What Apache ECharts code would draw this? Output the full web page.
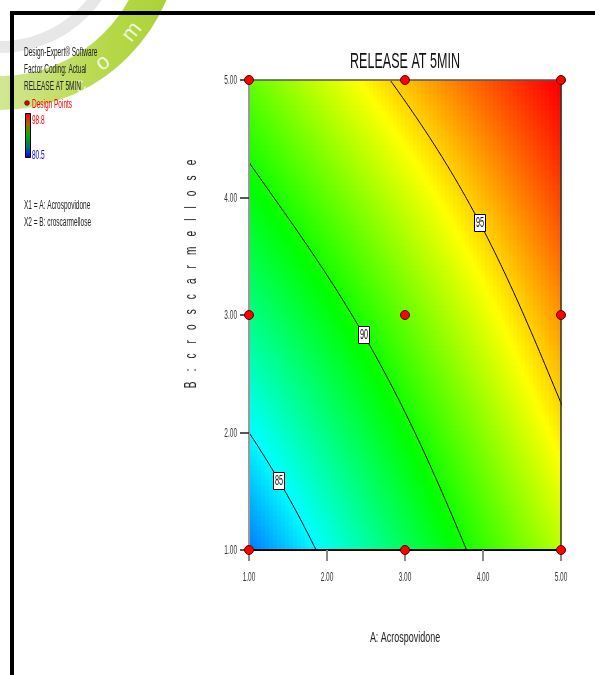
<!DOCTYPE html>
<html>
<head>
<meta charset="utf-8">
<script src="https://cdn.jsdelivr.net/npm/echarts@6/dist/echarts.min.js"></script>
<style>
  html, body { margin: 0; padding: 0; background: #fff; }
  #chart { width: 595px; height: 675px; }
</style>
</head>
<body>
<div id="chart"></div>
<script>
const SANS = '"Liberation Sans",Arial,sans-serif';

// Factor ranges (actual units) and axis ticks
const factorA = [1, 5];
const factorB = [1, 5];
const axisTicks = [1, 2, 3, 4, 5];

// 3x3 factorial design points
const designA = [1, 1, 1, 3, 3, 3, 5, 5, 5];
const designB = [1, 3, 5, 1, 3, 5, 1, 3, 5];

// Observed response range used for the colour scale
const responseRange = [80.5, 98.8];

// Fitted model in coded factors: [intercept, A, B, AB, A^2, B^2, A^2B^2]
const modelCoef = [91.49, 4.454, 3.683, -0.695, 0.204, 0.189, -0.39];

// Contour levels and the B position at which each level is labelled
const contourLevels = [85, 90, 95];
const contourLabelB = [1.59, 2.83, 3.78];

// Surface resolution
const cellsA = 78;
const cellsB = 94;

const toCodedA = A => (A - (factorA[0] + factorA[1]) / 2) / ((factorA[1] - factorA[0]) / 2);
const toCodedB = B => (B - (factorB[0] + factorB[1]) / 2) / ((factorB[1] - factorB[0]) / 2);
const toActualA = a => a * (factorA[1] - factorA[0]) / 2 + (factorA[0] + factorA[1]) / 2;

function predict(A, B) {
  const a = toCodedA(A), b = toCodedB(B);
  const c = modelCoef;
  return c[0] + c[1] * a + c[2] * b + c[3] * a * b + c[4] * a * a + c[5] * b * b + c[6] * a * a * b * b;
}

// A value where the model equals `level` for a given B (root nearest the centre)
function solveA(level, B) {
  const b = toCodedB(B);
  const c = modelCoef;
  const qa = c[4] + c[6] * b * b;
  const qb = c[1] + c[3] * b;
  const qc = c[0] + c[2] * b + c[5] * b * b - level;
  let a;
  if (Math.abs(qa) < 1e-9) {
    a = -qc / qb;
  } else {
    const disc = qb * qb - 4 * qa * qc;
    if (disc < 0) return null;
    const r1 = (-qb + Math.sqrt(disc)) / (2 * qa);
    const r2 = (-qb - Math.sqrt(disc)) / (2 * qa);
    a = Math.abs(r1) < Math.abs(r2) ? r1 : r2;
  }
  return toActualA(a);
}

// Surface cells
const cellW = (factorA[1] - factorA[0]) / cellsA;
const cellH = (factorB[1] - factorB[0]) / cellsB;
const surface = [];
for (let i = 0; i < cellsA; i++) {
  for (let j = 0; j < cellsB; j++) {
    const A = factorA[0] + (i + 0.5) * cellW;
    const B = factorB[0] + (j + 0.5) * cellH;
    surface.push([A, B, predict(A, B)]);
  }
}

// Contour polylines
const contourSeries = contourLevels.map(level => {
  const pts = [];
  const steps = 400;
  for (let k = 0; k <= steps; k++) {
    const B = factorB[0] + (factorB[1] - factorB[0]) * k / steps;
    const A = solveA(level, B);
    if (A !== null && A > factorA[0] - 0.6 && A < factorA[1] + 0.6) pts.push([A, B]);
  }
  return {
    type: 'line',
    data: pts,
    showSymbol: false,
    symbol: 'none',
    clip: true,
    lineStyle: { color: '#000', width: 1 },
    z: 4,
    silent: true
  };
});

const contourLabels = contourLevels.map((level, i) => {
  const B = contourLabelB[i];
  return [solveA(level, B), B, level];
});

// Tick labels: [A, B, 0 = A-axis label / 1 = B-axis label]
const tickLabelData = axisTicks.map(v => [v, factorB[0], 0])
  .concat(axisTicks.map(v => [factorA[0], v, 1]));

const chart = echarts.init(document.getElementById('chart'), null, { renderer: 'canvas' });

// Condensed text element
function narrowText(x, y, text, size, fill, align, scale, extra) {
  return Object.assign({
    type: 'text', z: 20, x: x, y: y, scaleX: scale, silent: true,
    style: { text: text, fill: fill, font: size + 'px ' + SANS, textAlign: align, textVerticalAlign: 'middle' }
  }, extra || {});
}

const yName = 'B:croscarmellose'.split('').join('\u2003');

chart.setOption({
  animation: false,
  backgroundColor: '#fff',
  grid: { left: 249, top: 80, width: 312, height: 470, containLabel: false },
  visualMap: {
    show: false,
    type: 'continuous',
    seriesIndex: 0,
    dimension: 2,
    min: responseRange[0],
    max: responseRange[1],
    inRange: { color: ['#0000ff', '#00ffff', '#00ff00', '#ffff00', '#ff0000'] }
  },
  xAxis: [{
    type: 'value',
    position: 'bottom',
    min: factorA[0], max: factorA[1], interval: 1,
    z: 5,
    axisLine: { lineStyle: { color: '#000', width: 2 } },
    axisTick: { show: true, length: 11, lineStyle: { color: '#8a8a8a', width: 2 } },
    axisLabel: { show: false },
    splitLine: { show: false }
  }, {
    type: 'value',
    position: 'top',
    min: factorA[0], max: factorA[1], interval: 1,
    z: 5,
    axisLine: { lineStyle: { color: '#555', width: 1.5 } },
    axisTick: { show: false },
    axisLabel: { show: false },
    splitLine: { show: false }
  }],
  yAxis: [{
    type: 'value',
    position: 'left',
    min: factorB[0], max: factorB[1], interval: 1,
    z: 5,
    axisLine: { lineStyle: { color: '#9a9a9a', width: 2 } },
    axisTick: { show: true, length: 9, lineStyle: { color: '#222', width: 1.5 } },
    axisLabel: { show: false },
    splitLine: { show: false }
  }, {
    type: 'value',
    position: 'right',
    min: factorB[0], max: factorB[1], interval: 1,
    z: 5,
    axisLine: { lineStyle: { color: '#333', width: 1.5 } },
    axisTick: { show: false },
    axisLabel: { show: false },
    splitLine: { show: false }
  }],
  graphic: [
    // watermark rings
    {
      type: 'arc', z: -10, silent: true,
      shape: { cx: 0, cy: -71, r: 118, startAngle: 0, endAngle: Math.PI },
      style: { fill: 'none', stroke: 'rgba(228,228,228,0.9)', lineWidth: 12 }
    },
    {
      type: 'arc', z: -10, silent: true,
      shape: { cx: 0, cy: -71, r: 164, startAngle: 0, endAngle: Math.PI },
      style: {
        fill: 'none',
        stroke: new echarts.graphic.LinearGradient(0.5, 0, 1, 0, [
          { offset: 0, color: 'rgba(208,230,140,0.95)' },
          { offset: 0.6, color: 'rgba(178,214,62,0.95)' },
          { offset: 1, color: 'rgba(165,206,40,0.95)' }
        ]),
        lineWidth: 34
      }
    },
    { type: 'text', z: -9, silent: true, x: 80, y: 86, rotation: 27 * Math.PI / 180,
      style: { text: 'c', fill: 'rgba(255,255,255,0.55)', font: '22px ' + SANS, textAlign: 'center', textVerticalAlign: 'middle' } },
    { type: 'text', z: -9, silent: true, x: 103, y: 63, rotation: 37 * Math.PI / 180,
      style: { text: 'o', fill: 'rgba(255,255,255,0.8)', font: '22px ' + SANS, textAlign: 'center', textVerticalAlign: 'middle' } },
    { type: 'text', z: -9, silent: true, x: 132, y: 32, rotation: 52 * Math.PI / 180,
      style: { text: 'm', fill: 'rgba(255,255,255,0.8)', font: '22px ' + SANS, textAlign: 'center', textVerticalAlign: 'middle' } },
    // page frame
    { type: 'rect', z: 20, silent: true, shape: { x: 10, y: 11, width: 585, height: 4 }, style: { fill: '#000' } },
    { type: 'rect', z: 20, silent: true, shape: { x: 10, y: 11, width: 4, height: 664 }, style: { fill: '#000' } },
    // title
    narrowText(405, 62, 'RELEASE AT 5MIN', 22, '#111', 'center', 0.57),
    // axis names
    narrowText(405, 638, 'A: Acrospovidone', 14, '#222', 'center', 0.64),
    narrowText(192, 274, yName, 16, '#222', 'center', 0.63, { rotation: Math.PI / 2 }),
    // side annotation
    narrowText(24, 52, 'Design-Expert\u00ae Software', 13, '#222', 'left', 0.5),
    narrowText(24, 69, 'Factor Coding: Actual', 13, '#222', 'left', 0.5),
    narrowText(24, 86, 'RELEASE AT 5MIN', 13, '#222', 'left', 0.5),
    { type: 'circle', z: 20, shape: { cx: 27, cy: 103, r: 2.3 }, style: { fill: '#e00', stroke: '#400', lineWidth: 0.8 } },
    narrowText(32, 104, 'Design Points', 13, '#ff0000', 'left', 0.5),
    { type: 'rect', z: 20, shape: { x: 25.5, y: 113.5, width: 5, height: 44 },
      style: {
        fill: new echarts.graphic.LinearGradient(0, 0, 0, 1, [
          { offset: 0, color: '#ff0000' },
          { offset: 0.25, color: '#b06000' },
          { offset: 0.5, color: '#00b000' },
          { offset: 0.75, color: '#007080' },
          { offset: 1, color: '#0000ff' }
        ]),
        stroke: '#000', lineWidth: 1
      } },
    narrowText(32, 120, String(responseRange[1]), 13, '#ff0000', 'left', 0.5),
    narrowText(32, 155, String(responseRange[0]), 13, '#0000ff', 'left', 0.5),
    narrowText(24, 205, 'X1 = A: Acrospovidone', 13, '#222', 'left', 0.5),
    narrowText(24, 222, 'X2 = B: croscarmellose', 13, '#222', 'left', 0.5)
  ],
  series: [
    {
      type: 'custom',
      data: surface,
      encode: { x: 0, y: 1 },
      z: 1,
      silent: true,
      renderItem: function (params, api) {
        const A = api.value(0), B = api.value(1);
        const p0 = api.coord([A - cellW / 2, B + cellH / 2]);
        const p1 = api.coord([A + cellW / 2, B - cellH / 2]);
        return {
          type: 'rect',
          shape: { x: p0[0], y: p0[1], width: p1[0] - p0[0] + 0.5, height: p1[1] - p0[1] + 0.5 },
          style: { fill: api.visual('color') }
        };
      }
    },
    ...contourSeries,
    {
      // boxed contour values
      type: 'custom',
      data: contourLabels,
      encode: { x: 0, y: 1 },
      z: 6,
      silent: true,
      renderItem: function (params, api) {
        const p = api.coord([api.value(0), api.value(1)]);
        return {
          type: 'group',
          x: Math.round(p[0]), y: Math.round(p[1]),
          children: [
            { type: 'rect', shape: { x: -5.5, y: -8.5, width: 11, height: 17 },
              style: { fill: '#fff', stroke: '#000', lineWidth: 1 } },
            { type: 'text', x: 0, y: 0.5, scaleX: 0.52,
              style: { text: String(api.value(2)), fill: '#111', font: '14px ' + SANS, textAlign: 'center', textVerticalAlign: 'middle' } }
          ]
        };
      }
    },
    {
      // axis tick labels
      type: 'custom',
      data: tickLabelData,
      encode: { x: 0, y: 1 },
      z: 6,
      silent: true,
      renderItem: function (params, api) {
        const A = api.value(0), B = api.value(1), which = api.value(2);
        const p = api.coord([A, B]);
        const val = which === 0 ? A : B;
        return {
          type: 'text',
          x: which === 0 ? p[0] : p[0] - 12,
          y: which === 0 ? p[1] + 27 : p[1] + 0.5,
          scaleX: 0.5,
          style: {
            text: val.toFixed(2), fill: '#333', font: '13px ' + SANS,
            textAlign: which === 0 ? 'center' : 'right', textVerticalAlign: 'middle'
          }
        };
      }
    },
    {
      type: 'scatter',
      data: designA.map((A, i) => [A, designB[i]]),
      symbol: 'circle',
      symbolSize: 9,
      clip: false,
      z: 10,
      itemStyle: { color: '#ff0000', borderColor: '#500', borderWidth: 1, opacity: 1 }
    }
  ]
});
</script>
</body>
</html>
